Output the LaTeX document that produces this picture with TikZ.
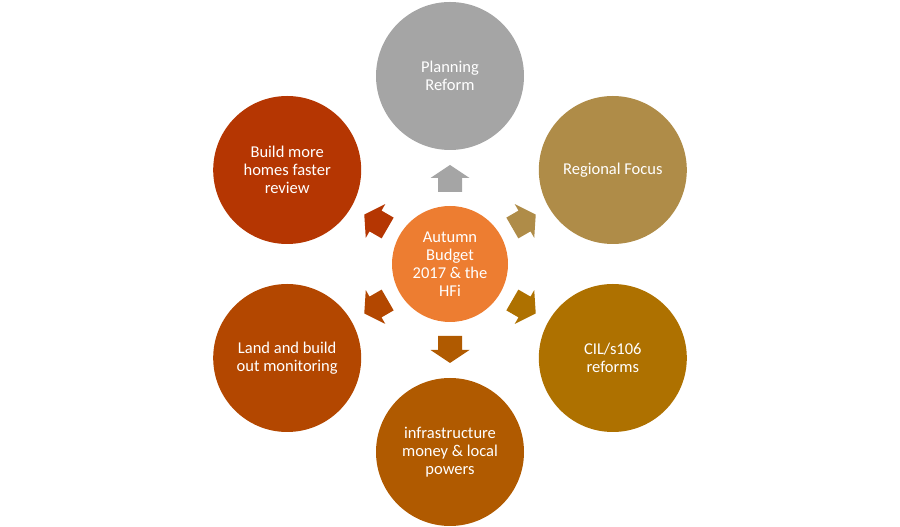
\documentclass[tikz,border=0pt]{standalone}
\usepackage{fontspec}
\setmainfont{Carlito}
\usetikzlibrary{calc}
\definecolor{cgray}{HTML}{A5A5A5}
\definecolor{cgold}{HTML}{AF8C48}
\definecolor{ccil}{HTML}{AE7100}
\definecolor{cinfra}{HTML}{B05A00}
\definecolor{cland}{HTML}{B34700}
\definecolor{cbuild}{HTML}{B53602}
\definecolor{corange}{HTML}{ED7D31}
\begin{document}
\begin{tikzpicture}[x=1pt,y=1pt,
  outer/.style={circle, fill=#1, draw=none, minimum size=148pt, inner sep=0pt,
    text=white, align=center, font=\fontsize{16.5}{18}\selectfont},
  hub/.style={circle, fill=corange, draw=none, minimum size=116pt, inner sep=0pt,
    text=white, align=center, font=\fontsize{16.5}{18}\selectfont},
  blockarrow/.style={fill=#1, draw=none}]
\useasboundingbox (0,0) rectangle (900,527);
\coordinate (c) at (450,263);
\node[hub] (hubnode) at (c) {Autumn\\Budget\\2017 \& the\\HFi};
\node[outer=cgray]  (plan)   at ($(c)+(90:188)$)  {Planning\\Reform};
\node[outer=cgold]  (region) at ($(c)+(30:188)$)  {Regional Focus};
\node[outer=ccil]   (cil)    at ($(c)+(-30:188)$) {CIL/s106\\reforms};
\node[outer=cinfra] (infra)  at ($(c)+(-90:188)$) {infrastructure\\money \& local\\powers};
\node[outer=cland]  (land)   at ($(c)+(210:188)$) {Land and build\\out monitoring};
\node[outer=cbuild] (build)  at ($(c)+(150:188)$) {Build more\\homes faster\\review};
\foreach \ang/\col in {90/cgray,30/cgold,-30/ccil,-90/cinfra,210/cland,150/cbuild}{
  \fill[blockarrow=\col, shift={(c)}, rotate=\ang]
    (72,-12) -- (86,-12) -- (86,-19.5) -- (99,0) -- (86,19.5) -- (86,12) -- (72,12) -- cycle;
}
\end{tikzpicture}
\end{document}
